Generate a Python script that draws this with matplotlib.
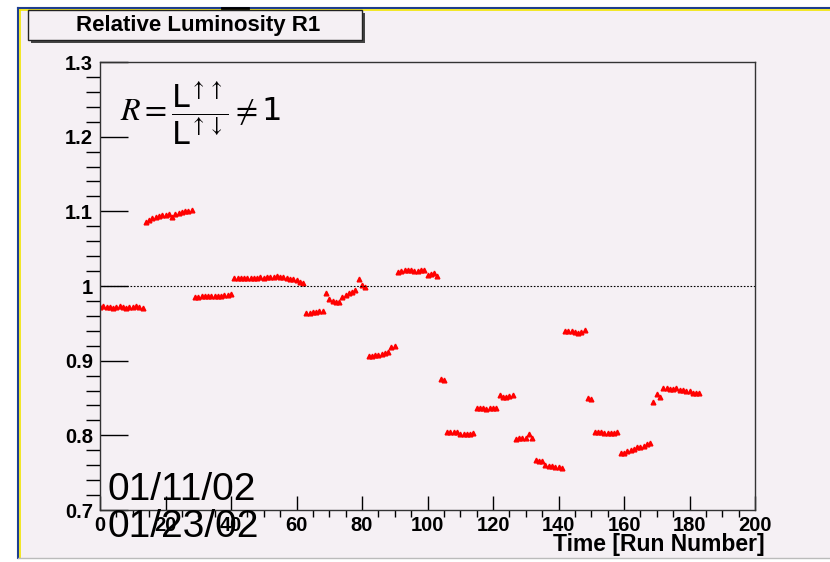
import matplotlib.pyplot as plt
from matplotlib.patches import Rectangle
from matplotlib.lines import Line2D
from matplotlib.ticker import MultipleLocator

plt.rcParams['mathtext.fontset'] = 'custom'
plt.rcParams['mathtext.rm'] = 'STIXGeneral'
plt.rcParams['mathtext.it'] = 'STIXGeneral:italic'
plt.rcParams['mathtext.sf'] = 'DejaVu Sans'
narrow = ['Liberation Sans Narrow', 'Liberation Sans', 'DejaVu Sans']

# run numbers and relative luminosity R1
runs = list(range(0, 184))
r1 = [
    # 0-13
    0.972, 0.973, 0.972, 0.972, 0.971, 0.972, 0.973, 0.972, 0.971, 0.972, 0.972, 0.973, 0.972, 0.971,
    # 14-28
    1.086, 1.089, 1.091, 1.093, 1.094, 1.095, 1.095, 1.096, 1.093, 1.096, 1.098, 1.099, 1.101, 1.101, 1.102,
    # 29-40
    0.985, 0.985, 0.986, 0.986, 0.986, 0.986, 0.987, 0.987, 0.987, 0.988, 0.988, 0.989,
    # 41-62
    1.011, 1.011, 1.011, 1.011, 1.011, 1.011, 1.011, 1.011, 1.012, 1.011, 1.012, 1.012, 1.012, 1.013,
    1.012, 1.012, 1.011, 1.009, 1.009, 1.008, 1.006, 1.004,
    # 63-68
    0.964, 0.964, 0.965, 0.965, 0.966, 0.967,
    # 69
    0.990,
    # 70-78
    0.982, 0.980, 0.979, 0.979, 0.985, 0.988, 0.990, 0.992, 0.994,
    # 79-81
    1.009, 1.002, 0.998,
    # 82-90
    0.906, 0.906, 0.907, 0.908, 0.909, 0.910, 0.912, 0.918, 0.920,
    # 91-99
    1.019, 1.020, 1.021, 1.022, 1.021, 1.020, 1.020, 1.021, 1.021,
    # 100-103
    1.015, 1.016, 1.018, 1.013,
    # 104-105
    0.876, 0.874,
    # 106-114
    0.805, 0.805, 0.805, 0.804, 0.802, 0.802, 0.802, 0.802, 0.803,
    # 115-121
    0.836, 0.836, 0.836, 0.835, 0.836, 0.836, 0.837,
    # 122-126
    0.854, 0.852, 0.851, 0.853, 0.854,
    # 127-132
    0.795, 0.796, 0.796, 0.797, 0.802, 0.797,
    # 133-141
    0.767, 0.766, 0.765, 0.760, 0.759, 0.759, 0.758, 0.758, 0.756,
    # 142-148
    0.940, 0.940, 0.940, 0.938, 0.937, 0.939, 0.941,
    # 149-150
    0.850, 0.849,
    # 151-158
    0.805, 0.805, 0.804, 0.803, 0.803, 0.803, 0.803, 0.804,
    # 159-168
    0.777, 0.777, 0.779, 0.780, 0.782, 0.784, 0.785, 0.786, 0.788, 0.790,
    # 169-171
    0.844, 0.855, 0.852,
    # 172-183
    0.863, 0.863, 0.862, 0.862, 0.863, 0.861, 0.861, 0.860, 0.859, 0.857, 0.857, 0.857,
]

bg = '#f5f0f4'
fig = plt.figure(figsize=(8.3, 5.62), dpi=100)
fig.patch.set_facecolor('white')
fig.patches.append(Rectangle((18/830, 4/562), 812/830, 550/562, transform=fig.transFigure,
                             facecolor=bg, edgecolor='none', zorder=-5))

ax = fig.add_axes([100/830, 1 - 510/562, 655/830, 448/562])
ax.set_facecolor(bg)
ax.plot(runs, r1, ls='none', marker='^', ms=3.4, color='red', mec='red')
ax.axhline(1.0, color='black', ls=(0, (1.5, 1.5)), lw=0.8)

ax.set_xlim(0, 200)
ax.set_ylim(0.7, 1.3)
ax.xaxis.set_major_locator(MultipleLocator(20))
ax.xaxis.set_minor_locator(MultipleLocator(5))
ax.yaxis.set_major_locator(MultipleLocator(0.1))
ax.yaxis.set_minor_locator(MultipleLocator(0.02))
ax.tick_params(direction='in', top=False, right=False)
ax.tick_params(axis='x', which='major', length=10, width=1)
ax.tick_params(axis='x', which='minor', length=5, width=1)
ax.tick_params(axis='y', which='major', length=20, width=1)
ax.tick_params(axis='y', which='minor', length=10, width=1)
ax.tick_params(axis='x', pad=4)
ax.tick_params(axis='y', pad=5)
ax.set_yticks([0.7, 0.8, 0.9, 1.0, 1.1, 1.2, 1.3])
ax.set_yticklabels(['0.7', '0.8', '0.9', '1', '1.1', '1.2', '1.3'])
for lab in ax.get_xticklabels() + ax.get_yticklabels():
    lab.set_family(narrow)
    lab.set_fontweight('bold')
    lab.set_fontsize(14.5)
for s in ax.spines.values():
    s.set_color('#333333')
    s.set_linewidth(1)

ax.text(0.03, 0.96,
        r'$R=\dfrac{\mathsf{L}^{\uparrow\uparrow}}{\mathsf{L}^{\uparrow\downarrow}}\neq\mathsf{1}$',
        transform=ax.transAxes, fontsize=23, va='top', ha='left')

fig.text(765/830, 1 - 545/562, 'Time [Run Number]', ha='right', va='center',
         family=narrow, fontweight='bold', fontsize=16.5)
fig.text(107/830, 1 - 490/562, '01/11/02', ha='left', va='center', family=narrow, fontsize=28)
fig.text(107/830, 1 - 527/562, '01/23/02', ha='left', va='center', family=narrow, fontsize=28)

# title box with shadow
fig.patches.append(Rectangle((31/830, 1 - 43/562), 334/830, 30/562, transform=fig.transFigure,
                             facecolor='#444444', edgecolor='none', zorder=1))
fig.patches.append(Rectangle((28/830, 1 - 40/562), 334/830, 30/562, transform=fig.transFigure,
                             facecolor=bg, edgecolor='#222222', lw=1, zorder=2))
fig.text(198/830, 1 - 25/562, 'Relative Luminosity R1', ha='center', va='center',
         family=narrow, fontweight='bold', fontsize=16, zorder=3)

# canvas border lines
fig.lines.append(Line2D([18/830, 18/830], [4/562, 1 - 8/562], transform=fig.transFigure, color='#1f3f8f', lw=1.5))
fig.lines.append(Line2D([20/830, 20/830], [4/562, 1 - 10/562], transform=fig.transFigure, color='#f2e600', lw=1.2))
fig.lines.append(Line2D([18/830, 1], [1 - 8/562, 1 - 8/562], transform=fig.transFigure, color='#1f3f8f', lw=1.5))
fig.lines.append(Line2D([20/830, 1], [1 - 10/562, 1 - 10/562], transform=fig.transFigure, color='#f2e600', lw=1.2))
fig.lines.append(Line2D([222/830, 248/830], [1 - 8/562, 1 - 8/562], transform=fig.transFigure, color='black', lw=2))
fig.lines.append(Line2D([18/830, 1], [4/562, 4/562], transform=fig.transFigure, color='#bbbbbb', lw=1))

fig.savefig('out.png', dpi=100, facecolor=fig.get_facecolor())
